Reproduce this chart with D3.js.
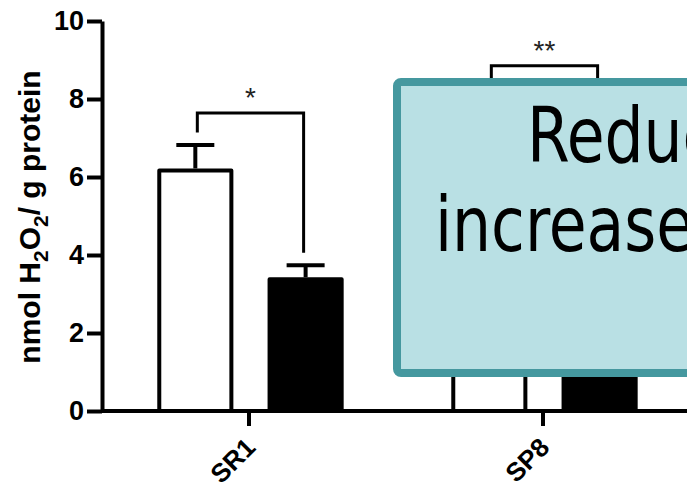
<!DOCTYPE html>
<html>
<head>
    <script src="https://cdn.jsdelivr.net/npm/d3@7"></script>
    <style>
        body { margin: 0; background: #fff; }
    </style>
</head>

<body>
<div id="chart"></div>

<script>

    // data (SP8 bars sit behind the call-out box, so those are guesses)
    var categories = ["SR1", "SP8"];
    var seriesKeys = ["open", "filled"];
    var openMeans = [6.22, 7.6];
    var openErr = [0.60, 0.55];
    var filledMeans = [3.43, 4.8];
    var filledErr = [0.31, 0.45];
    var bracketLevels = [7.64, 8.85];
    var starLabels = ["*", "**"];
    var yTicks = [0, 2, 4, 6, 8, 10];
    var boxLines = ["Reduced", "increased"];

    var width = 687;
    var height = 488;
    var margin = { top: 21, right: -3, bottom: 77, left: 102 };

    var svg = d3.select('#chart').append('svg')
        .attr('width', width)
        .attr('height', height);

    var xScale = d3.scaleBand()
        .domain(categories)
        .range([margin.left, margin.left + 294 * categories.length])
        .padding(0);

    var bw = xScale.bandwidth();
    var innerScale = d3.scaleBand()
        .domain(seriesKeys)
        .range([bw * 0.188, bw * 0.822])
        .paddingInner(0.31)
        .paddingOuter(0);

    var yScale = d3.scaleLinear()
        .domain([0, 10])
        .range([height - margin.bottom, margin.top]);

    var rows = categories.map(function(c, i) {
        return {
            cat: c,
            bars: [
                { key: "open", mean: openMeans[i], err: openErr[i] },
                { key: "filled", mean: filledMeans[i], err: filledErr[i] }
            ],
            bracket: bracketLevels[i],
            stars: starLabels[i]
        };
    });

    var groups = svg.selectAll('g.group')
        .data(rows)
        .enter()
        .append('g')
        .attr('class', 'group')
        .attr('transform', function(d) { return 'translate(' + xScale(d.cat) + ',0)'; });

    // error bars (upper only)
    groups.selectAll('g.err')
        .data(function(d) { return d.bars; })
        .enter()
        .append('g')
        .attr('class', 'err')
        .each(function(d) {
            var cx = innerScale(d.key) + innerScale.bandwidth() / 2;
            var g = d3.select(this);
            g.append('line')
                .attr('x1', cx).attr('x2', cx)
                .attr('y1', yScale(d.mean)).attr('y2', yScale(d.mean + d.err))
                .attr('stroke', '#000').attr('stroke-width', 4);
            g.append('line')
                .attr('x1', cx - 19).attr('x2', cx + 19)
                .attr('y1', yScale(d.mean + d.err)).attr('y2', yScale(d.mean + d.err))
                .attr('stroke', '#000').attr('stroke-width', 4);
        });

    groups.selectAll('rect.bar')
        .data(function(d) { return d.bars; })
        .enter()
        .append('rect')
        .attr('class', 'bar')
        .attr('x', function(d) { return innerScale(d.key) + 2; })
        .attr('width', innerScale.bandwidth() - 4)
        .attr('y', function(d) { return yScale(d.mean) + 2; })
        .attr('height', function(d) { return yScale(0) - yScale(d.mean) - 2; })
        .attr('fill', function(d) { return d.key === "open" ? '#fff' : '#000'; })
        .attr('stroke', '#000')
        .attr('stroke-width', 4)
        .attr('stroke-linejoin', 'round');

    // significance brackets
    groups.each(function(d) {
        var g = d3.select(this);
        var a = d.bars[0], b = d.bars[1];
        var xa = innerScale(a.key) + innerScale.bandwidth() / 2 + 2;
        var xb = innerScale(b.key) + innerScale.bandwidth() / 2 - 2;
        var gap = 0.32;
        g.append('path')
            .attr('d', 'M' + xa + ',' + yScale(a.mean + a.err + gap) +
                       'V' + yScale(d.bracket) +
                       'H' + xb +
                       'V' + yScale(b.mean + b.err + gap))
            .attr('fill', 'none')
            .attr('stroke', '#000')
            .attr('stroke-width', 3);
        g.append('text')
            .attr('x', (xa + xb) / 2)
            .attr('y', yScale(d.bracket) - 6)
            .attr('text-anchor', 'middle')
            .attr('font-family', 'Liberation Sans, Arial, sans-serif')
            .attr('font-size', 28)
            .attr('fill', '#222')
            .text(d.stars);
    });

    // axes
    var yAxis = svg.append('g')
        .attr('transform', 'translate(' + margin.left + ',0)')
        .call(d3.axisLeft(yScale).tickValues(yTicks).tickSize(15).tickSizeOuter(0).tickPadding(3));

    var xAxis = svg.append('g')
        .attr('transform', 'translate(0,' + yScale(0) + ')')
        .call(d3.axisBottom(xScale).tickSize(15).tickSizeOuter(0));

    xAxis.select('.domain')
        .attr('d', 'M' + margin.left + ',0H' + (width + 5));

    svg.selectAll('.domain, .tick line')
        .attr('stroke', '#000')
        .attr('stroke-width', 4);

    yAxis.selectAll('text')
        .attr('font-family', 'Liberation Sans, Arial, sans-serif')
        .attr('font-weight', 'bold')
        .attr('font-size', 27)
        .attr('fill', '#000');

    xAxis.selectAll('text')
        .attr('font-family', 'Liberation Sans, Arial, sans-serif')
        .attr('font-weight', 'bold')
        .attr('font-size', 26)
        .attr('fill', '#000')
        .attr('text-anchor', 'end')
        .attr('dy', 0)
        .attr('y', 0)
        .attr('transform', 'translate(8,38) rotate(-45)');

    // y axis title
    var yTitle = svg.append('text')
        .attr('transform', 'translate(40,' + ((yScale(0) + yScale(10)) / 2 + 1) + ') rotate(-90)')
        .attr('text-anchor', 'middle')
        .attr('font-family', 'Liberation Sans, Arial, sans-serif')
        .attr('font-weight', 'bold')
        .attr('font-size', 30)
        .attr('fill', '#000');
    yTitle.append('tspan').text('nmol  H');
    yTitle.append('tspan').attr('font-size', 21).attr('dy', 8).text('2');
    yTitle.append('tspan').attr('dy', -8).text('O');
    yTitle.append('tspan').attr('font-size', 21).attr('dy', 8).text('2');
    yTitle.append('tspan').attr('dy', -8).text('/ g protein');

    // call-out box drawn over the chart
    svg.append('rect')
        .attr('x', 397)
        .attr('y', 82)
        .attr('width', 340)
        .attr('height', 291)
        .attr('rx', 4)
        .attr('fill', '#b9e0e4')
        .attr('stroke', '#45989f')
        .attr('stroke-width', 8);

    svg.selectAll('text.boxline')
        .data(boxLines)
        .enter()
        .append('text')
        .attr('class', 'boxline')
        .attr('transform', function(d, i) {
            return 'translate(' + (i === 0 ? 527 : 435) + ',' + (i === 0 ? 162 : 251) + ') scale(0.9,1)';
        })
        .attr('font-family', 'Liberation Sans Narrow, DejaVu Sans Condensed, sans-serif')
        .attr('font-stretch', 'condensed')
        .attr('font-size', 76)
        .attr('fill', '#000')
        .text(function(d) { return d; });

</script>
</body>
</html>
